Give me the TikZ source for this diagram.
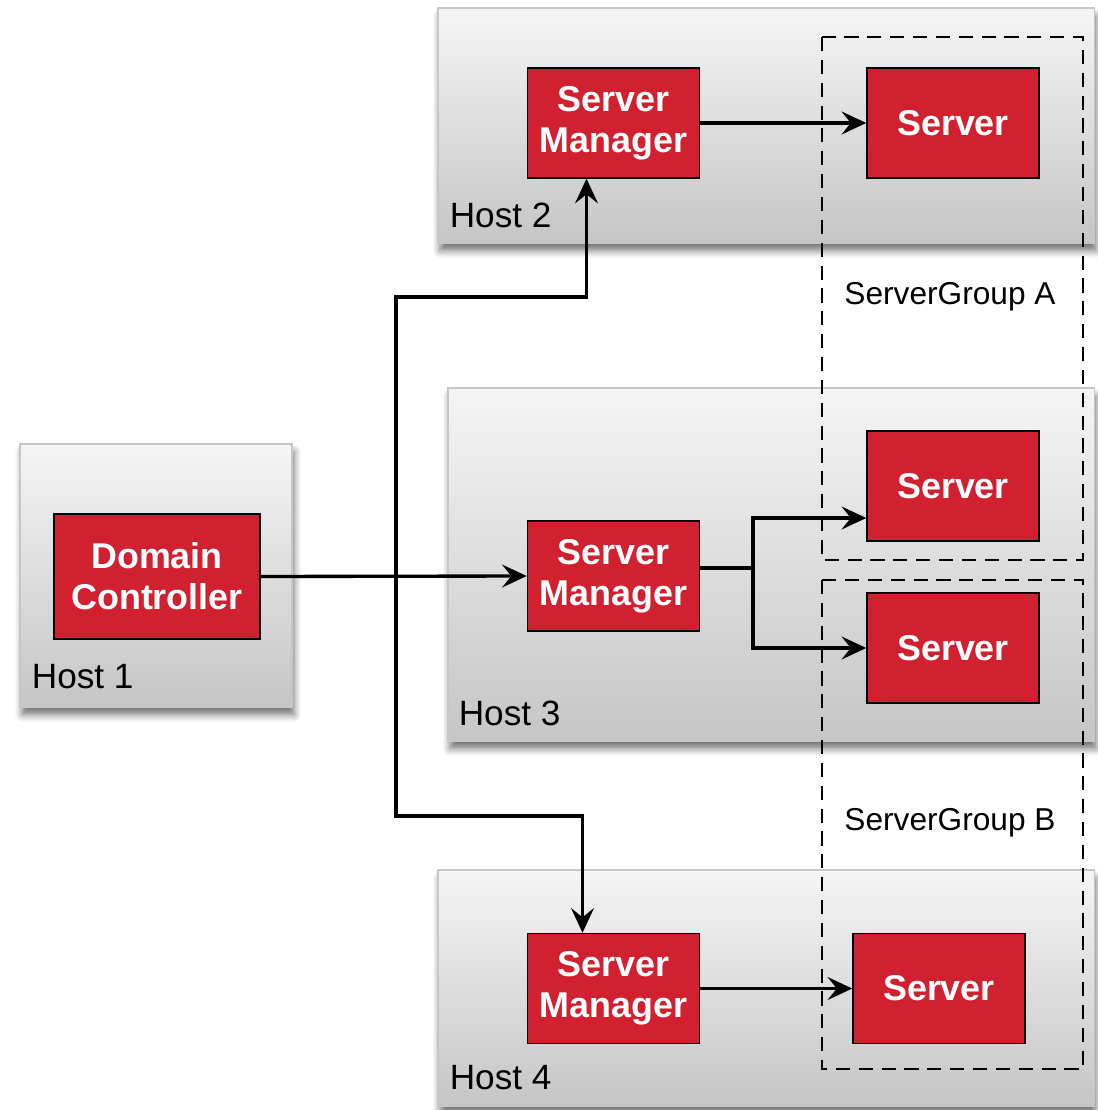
\documentclass[tikz,border=0pt]{standalone}
\usepackage{fontspec}
\setmainfont{Liberation Sans}
\usetikzlibrary{arrows.meta,shadows.blur,calc}
\definecolor{hostred}{HTML}{D1202F}
\begin{document}
\begin{tikzpicture}[x=0.01cm,y=-0.01cm,>={Stealth[length=7pt,width=6.5pt,inset=2.6pt]},
        host/.style={draw=gray!45,top color=gray!8,bottom color=gray!45,inner sep=0pt,
            blur shadow={shadow xshift=0.6pt,shadow yshift=-2.2pt,shadow blur radius=2pt,shadow blur steps=6,shadow opacity=55}},
        proc/.style={draw=black,fill=hostred,text=white,align=center,inner sep=0pt,
            font=\bfseries\fontsize{10.2}{11.7}\selectfont,minimum width=1.72cm,minimum height=1.1cm},
        hostname/.style={anchor=base west,inner sep=0pt,font=\fontsize{10}{12}\selectfont},
        grouplabel/.style={inner sep=0pt,font=\fontsize{9}{11}\selectfont},
        group/.style={draw,dash pattern=on 4pt off 2.5pt,line width=.35pt},
        link/.style={->,line width=.95pt}]
        \useasboundingbox (0,0) rectangle (1098,1110);
        % hosts
        \node[host,minimum width=2.72cm,minimum height=2.63cm] (h1) at (156,575.5){};
        \node[host,minimum width=6.56cm,minimum height=2.35cm] (h2) at (766,125.5){};
        \node[host,minimum width=6.46cm,minimum height=3.53cm] (h3) at (771,564.5){};
        \node[host,minimum width=6.56cm,minimum height=2.36cm] (h4) at (766,988){};
        \node[hostname] (l1) at ($(h1.south west)+(12,-19)$){Host 1};
        \node[hostname] (l2) at ($(h2.south west)+(12,-16)$){Host 2};
        \node[hostname] (l3) at ($(h3.south west)+(11,-16)$){Host 3};
        \node[hostname] (l4) at ($(h4.south west)+(12,-17)$){Host 4};
        % server groups
        \draw[group] (822,37) rectangle (1083,560);
        \draw[group] (822,580) rectangle (1083,1069);
        \node[grouplabel] (ga) at (950,297){ServerGroup A};
        \node[grouplabel] (gb) at (950,823){ServerGroup B};
        % processes
        \node[proc,minimum width=2.06cm,minimum height=1.25cm] (dc) at (157,576.5){Domain\\Controller};
        \node[proc] (sm2) at (613.5,123){Server\\Manager};
        \node[proc] (sm3) at (613.5,576){Server\\Manager};
        \node[proc] (sm4) at (613.5,988.5){Server\\Manager};
        \node[proc] (a1) at (953,123){Server};
        \node[proc] (a2) at (953,486){Server};
        \node[proc] (b1) at (953,648){Server};
        \node[proc] (b2) at (939,988.5){Server};
        % links
        \coordinate (trunk) at (396,576);
        \coordinate (up) at (396,297);
        \coordinate (down) at (396,816);
        \coordinate (split) at (753,568);
        \draw[link] (dc.east)--(sm3.west);
        \draw[link] (trunk)--(up)-|($(sm2.south)+(-27,0)$);
        \draw[link] (trunk)--(down)-|($(sm4.north)+(-31,0)$);
        \draw[link] (sm2.east)--(a1.west);
        \draw[line width=.95pt] ($(sm3.east)+(0,-8)$)--(split);
        \draw[link] (split)|-($(a2.west)+(0,32)$);
        \draw[link] (split)|-(b1.west);
        \draw[link] (sm4.east)--(b2.west);
    \end{tikzpicture}
\end{document}
